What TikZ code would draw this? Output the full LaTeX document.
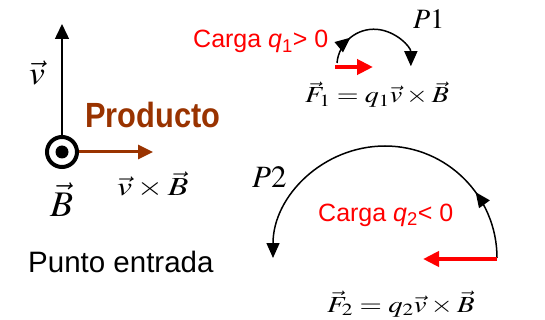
\documentclass[tikz,border=0pt]{standalone}
\usepackage{graphicx}
\usepackage{mathptmx}
\usepackage[no-math]{fontspec}
\setmainfont{Liberation Serif}
\setsansfont{Liberation Sans}
\newfontfamily\prodfont[FakeStretch=0.88]{Liberation Sans}
\usetikzlibrary{arrows.meta,decorations.markings}
\definecolor{prodbrown}{RGB}{153,51,0}
\definecolor{chargered}{RGB}{255,0,0}
\newcommand{\hstretch}[2]{\scalebox{#1}[1]{#2}}
\tikzset{
  lbl/.style={inner sep=0pt, anchor=base west},
  thinarrow/.style={line width=1.5pt, -{Triangle[length=15pt,width=14pt]}},
  brownarrow/.style={draw=prodbrown, line width=3pt, -{Triangle[length=15pt,width=14pt,fill=prodbrown]}},
  redarrow/.style={draw=chargered, line width=4pt, -{Triangle[length=16pt,width=15pt,fill=chargered]}},
  pathline/.style={line width=1.5pt, -{Triangle[length=15pt,width=13pt]}},
  midarrow/.style={postaction={decorate}, decoration={markings,
    mark=at position #1 with {\arrow{Triangle[length=15pt,width=13pt]}}}},
  redtxt/.style={lbl, text=chargered, font=\sffamily\fontsize{25}{30}\selectfont},
  bfield/.style={circle, draw, line width=4pt, minimum size=30pt, inner sep=0pt}
}
\begin{document}
\begin{tikzpicture}[x=1pt,y=-1pt]
\useasboundingbox (0,0) rectangle (545,320);
% left part
\node[bfield] (Bdot) at (62,152) {};
\fill (Bdot.center) circle (6.5pt);
\coordinate (vtip) at (62,24);
\coordinate (ptip) at (153,152);
\draw[thinarrow] (Bdot.north) -- (vtip);
\draw[brownarrow] (Bdot.east) -- (ptip);
\node[lbl, font=\fontsize{33}{36}\selectfont] (vlab) at (29,85) {\hstretch{1.08}{$\vec{v}$}};
\node[lbl, font=\fontsize{36}{40}\selectfont] (Blab) at (50,216) {\hstretch{1.05}{$\vec{B}$}};
\node[lbl, font=\fontsize{26}{30}\selectfont] (vxB) at (117,196) {\hstretch{1.3}{$\vec{v}\times\vec{B}$}};
\node[lbl, text=prodbrown, font=\prodfont\bfseries\fontsize{35}{40}\selectfont] (prod) at (85,128) {Producto};
\node[lbl, font=\sffamily\fontsize{29.5}{34}\selectfont] (punto) at (28,272) {Punto entrada};
% P1
\node[redtxt] (c1) at (193,48) {Carga {\itshape q}\textsubscript{1}> 0};
\coordinate (r1s) at (335,67);
\coordinate (r1e) at (373,67);
\draw[redarrow] (r1s) -- (r1e);
\draw[pathline, midarrow=0.26] (337,63) arc[start angle=-175, end angle=0, radius=37];
\node[lbl, font=\fontsize{28}{32}\selectfont] (p1) at (413,29) {$P1$};
\node[lbl, font=\fontsize{23}{28}\selectfont] (f1) at (305,103) {\hstretch{1.22}{$\vec{F}_1 = q_1\vec{v}\times\vec{B}$}};
% P2
\draw[pathline, midarrow=0.2] (497,258) arc[start angle=0, end angle=-180, radius=112];
\coordinate (r2s) at (497,259);
\coordinate (r2e) at (423,259);
\draw[redarrow] (r2s) -- (r2e);
\node[lbl, font=\fontsize{31}{36}\selectfont] (p2) at (252,188) {$P2$};
\node[redtxt] (c2) at (318,221) {Carga {\itshape q}\textsubscript{2}< 0};
\node[lbl, font=\fontsize{23}{28}\selectfont] (f2) at (327,312) {\hstretch{1.25}{$\vec{F}_2 = q_2\vec{v}\times\vec{B}$}};
\end{tikzpicture}
\end{document}
